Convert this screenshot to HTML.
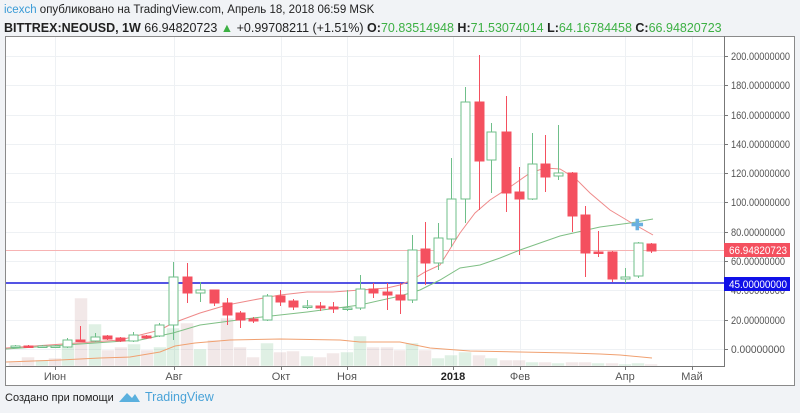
<!DOCTYPE html>
<html><head><meta charset="utf-8"><style>
body{margin:0;width:800px;height:413px;background:#f1f3f6;overflow:hidden;font-family:"Liberation Sans",sans-serif;}
#hdr{position:absolute;left:4px;top:1px;font-size:11.5px;color:#222;line-height:18px;white-space:nowrap}
#hdr b{font-weight:bold}
#l2{font-size:12.5px}
.g{color:#3cb043}
</style></head><body>
<div id="hdr"><span style="color:#3a9bd6">icexch</span> опубликовано на TradingView.com, Апрель 18, 2018 06:59 MSK<br>
<span id="l2"><b>BITTREX:NEOUSD, 1W</b> 66.94820723 <span class="g">▲</span> +0.99708211 (+1.51%) <b>O:</b><span class="g">70.83514948</span> <b>H:</b><span class="g">71.53074014</span> <b>L:</b><span class="g">64.16784458</span> <b>C:</b><span class="g">66.94820723</span></span></div>
<svg id="s" width="800" height="413" style="position:absolute;left:0;top:0" xmlns="http://www.w3.org/2000/svg">
<rect x="5.5" y="36.5" width="789" height="349" fill="#fff" stroke="#8a8a8a"/>
<g id="grid" stroke="#eef1f4" stroke-width="1"></g>
<g id="vol"></g>
<polyline fill="none" stroke="#f0a070" stroke-width="1" points="6,362 60,360 100,358 130,357 160,352 175,346 195,343 230,340 280,339 340,340 360,342 400,342 430,348 470,351 520,352 570,353 600,354 620,355 652,358"/>
<line x1="6" y1="250.5" x2="724" y2="250.5" stroke="#f7b3b3" stroke-width="1"/>
<line x1="6" y1="283" x2="724" y2="283" stroke="#1b1bdc" stroke-width="1.6"/>
<polyline fill="none" stroke="#7fbf85" stroke-width="1" points="6,349 140,340 173,333 200,325 253,318 307,312 360,305 400,296 420,290 440,280 460,268 480,265 500,258 520,250 560,236 600,227 630,223 653,219"/>
<polyline fill="none" stroke="#ef8a8a" stroke-width="1" points="6,348 120,340 160,330 173,323 200,313 227,305 253,300 280,295 307,292 333,292 360,290 387,288 400,285 412,280 425,272 440,265 460,233 475,213 490,200 510,187 530,173 545,168 560,169 575,178 590,193 610,210 630,222 653,235"/>
<g id="c"></g>
<text x="631" y="230" font-size="15" font-weight="bold" fill="#6ab0e0">✚</text>
<line x1="724.5" y1="36" x2="724.5" y2="366" stroke="#777"/>
<line x1="6" y1="366.5" x2="725" y2="366.5" stroke="#777"/>
<g id="ax" font-size="11" fill="#555"></g>
<rect x="724" y="243" width="66" height="14" fill="#f4505f"/>
<text x="729" y="254" font-size="11" fill="#fff" textLength="58" lengthAdjust="spacingAndGlyphs">66.94820723</text>
<rect x="724" y="277" width="66" height="14" fill="#1010e8"/>
<text x="729" y="288" font-size="11" fill="#fff" textLength="58" lengthAdjust="spacingAndGlyphs">45.00000000</text>
<text x="5" y="401" font-size="11" fill="#222">Создано при помощи</text>
<path d="M119 402 L127 393 L132 398 L135 394 L140 402 Z" fill="#5ab0de"/>
<text x="145" y="401" font-size="12.5" fill="#4aa3d8">TradingView</text>
</svg>
<script>
var NS="http://www.w3.org/2000/svg";
function el(p,t,a){var e=document.createElementNS(NS,t);for(var k in a)e.setAttribute(k,a[k]);document.getElementById(p).appendChild(e);return e;}
var ys=[[200,56],[180,85],[160,115],[140,144],[120,173],[100,202],[80,232],[60,261],[40,290],[20,320],[0,349]];
ys.forEach(function(y){el("grid","line",{x1:6,x2:724,y1:y[1]+.5,y2:y[1]+.5});
el("ax","line",{x1:724,x2:728,y1:y[1]+.5,y2:y[1]+.5,stroke:"#777"});
var t=el("ax","text",{x:731,y:y[1]+4,textLength:y[0]>=100?59:54,lengthAdjust:"spacingAndGlyphs"});t.textContent=y[0].toFixed(8);});
var ms=[["Июн",55],["Авг",174],["Окт",281],["Ноя",347],["2018",453],["Фев",520],["Апр",625],["Май",692]];
ms.forEach(function(m){el("grid","line",{x1:m[1]+.5,x2:m[1]+.5,y1:37,y2:366});
el("ax","line",{x1:m[1]+.5,x2:m[1]+.5,y1:366,y2:370,stroke:"#777"});
var t=el("ax","text",{x:m[1],y:380,"text-anchor":"middle",fill:m[0]=="2018"?"#222":"#555","font-weight":m[0]=="2018"?"bold":"normal"});t.textContent=m[0];});
var C=[[15,347,346,345,348],[28,346,347,345,348],[42,347,346,345,348],[55,347,346,345,348],[67,347,340,338,348],[80,340,341,326,342],[95,341,337,333,342],[107,336,339,335,340],[120,338,341,337,342],[133,341,335,332,342],[146,336,338,335,339],[159,336,325,323,337],[173,325,277,262,340],[187,277,293,263,303],[200,293,290,282,302],[214,290,303,290,306],[227,303,315,298,325],[240,313,320,311,328],[253,319,321,317,323],[267,320,296,294,321],[280,296,302,290,306],[293,301,307,299,310],[307,307,306,300,309],[320,306,308,302,311],[333,307,309,302,313],[347,309,308,290,311],[360,308,289,275,310],[373,289,293,283,298],[387,292,295,283,310],[400,295,300,283,314],[412,300,250,235,303],[425,249,263,222,285],[438,263,238,223,270],[451,239,199,158,247],[465,199,102,87,223],[479,102,161,55,210],[491,160,132,123,193],[506,132,193,96,212],[519,192,199,167,255],[532,199,164,133,200],[545,164,177,135,192],[558,176,173,125,180],[572,173,216,172,232],[585,215,253,206,277],[598,252,253,231,257],[612,252,279,251,282],[625,279,277,268,283],[638,276,243,242,278],[651,244,251,243,253]];
var V=[[15,362,0],[28,357,0],[42,360,1],[55,358,0],[68,343,1],[81,298,0],[95,324,1],[108,350,0],[121,347,0],[134,344,1],[147,350,0],[160,347,1],[173,328,1],[187,323,0],[200,349,1],[214,340,0],[227,318,0],[240,347,0],[253,357,0],[267,343,1],[280,352,0],[293,351,0],[307,356,1],[320,357,0],[333,353,0],[347,352,1],[360,336,1],[373,347,0],[387,347,0],[400,350,0],[412,343,1],[425,350,0],[438,358,1],[451,355,1],[465,352,1],[479,355,0],[491,358,1],[506,360,0],[519,360,0],[532,362,1],[545,362,0],[558,363,1],[572,362,0],[585,362,0],[598,363,1],[612,363,0],[625,364,1],[638,363,1],[651,364,0]];
V.forEach(function(v){el("vol","rect",{x:v[0]-6.5,y:v[1],width:13,height:366-v[1],fill:v[2]?"rgba(110,185,130,0.22)":"rgba(190,140,140,0.2)",stroke:"#fff","stroke-width":0.5});});
C.forEach(function(c){var up=c[2]<c[1];var col=up?"#6fbf8a":"#f4505f";
el("c","line",{x1:c[0]+.5,x2:c[0]+.5,y1:c[3],y2:c[4],stroke:col,"stroke-width":1});
var t=Math.min(c[1],c[2]),b=Math.max(c[1],c[2]);if(b-t<1.5)b=t+1.5;
el("c","rect",{x:c[0]-4,y:t,width:9,height:b-t,fill:up?"#fff":col,stroke:col,"stroke-width":1});});
</script>
</body></html>
